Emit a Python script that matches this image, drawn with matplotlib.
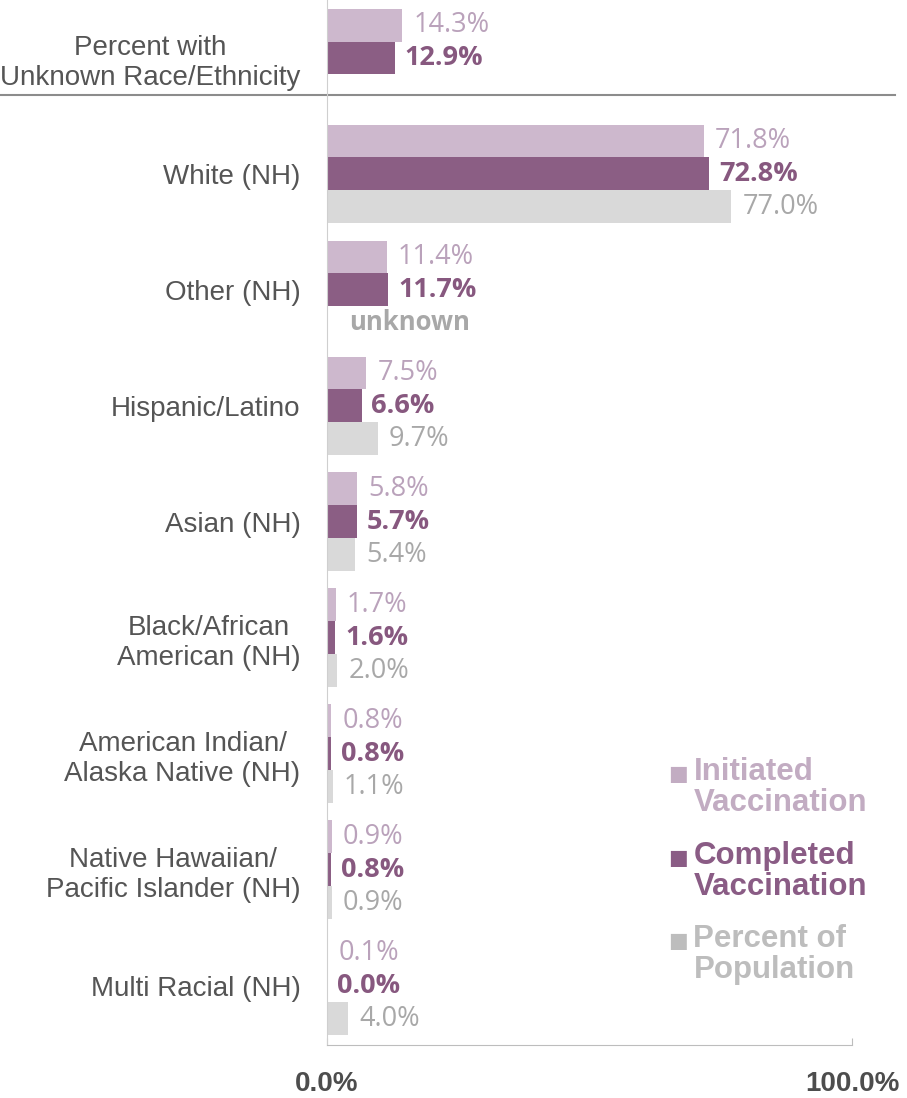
import numpy as np
import matplotlib
matplotlib.use("Agg")
import matplotlib.pyplot as plt

categories = ["Percent with\nUnknown Race/Ethnicity", "White (NH)", "Other (NH)",
              "Hispanic/Latino", "Asian (NH)", "Black/African\nAmerican (NH)",
              "American Indian/\nAlaska Native (NH)",
              "Native Hawaiian/\nPacific Islander (NH)", "Multi Racial (NH)"]
initiated = [14.3, 71.8, 11.4, 7.5, 5.8, 1.7, 0.8, 0.9, 0.1]
completed = [12.9, 72.8, 11.7, 6.6, 5.7, 1.6, 0.8, 0.8, 0.0]
population = [np.nan, 77.0, np.nan, 9.7, 5.4, 2.0, 1.1, 0.9, 4.0]
population_text = [None, None, "unknown", None, None, None, None, None, None]
series_names = ["Initiated\nVaccination", "Completed\nVaccination", "Percent of\nPopulation"]
xtick_vals = [0, 100]
xtick_labels = ["0.0%", "100.0%"]

bar_colors = ["#cdb8cd", "#8b5e84", "#d9d9d9"]
text_colors = ["#baa2bb", "#87587f", "#a8a8a8"]
legend_colors = ["#c2acc2", "#8a5c85", "#bdbdbd"]

fig = plt.figure(figsize=(9.07, 10.98), dpi=100)
ax = fig.add_axes([0.3605, 0.0483, 0.5788, 0.9517])

y = np.arange(len(categories))
h = 0.284

ax.barh(y - h, initiated, height=h, color=bar_colors[0])
ax.barh(y, completed, height=h, color=bar_colors[1])
ax.barh(y + h, np.nan_to_num(population), height=h, color=bar_colors[2])

vfont = "Open Sans"
vsize = 19.5
for i in range(len(categories)):
    ax.annotate(f"{initiated[i]:.1f}%", (initiated[i], y[i] - h), xytext=(8, 0),
                textcoords="offset points", va="center", ha="left",
                fontsize=vsize, color=text_colors[0], family=vfont)
    ax.annotate(f"{completed[i]:.1f}%", (completed[i], y[i]), xytext=(7, 0),
                textcoords="offset points", va="center", ha="left",
                fontsize=vsize, color=text_colors[1], family=vfont, fontweight="bold")
    if not np.isnan(population[i]):
        ax.annotate(f"{population[i]:.1f}%", (population[i], y[i] + h), xytext=(8, 0),
                    textcoords="offset points", va="center", ha="left",
                    fontsize=vsize, color=text_colors[2], family=vfont)
    elif population_text[i]:
        ax.annotate(population_text[i], (0, y[i] + h), xytext=(16, 0),
                    textcoords="offset points", va="center", ha="left",
                    fontsize=18.5, color=text_colors[2], family=vfont, fontweight="bold")

ax.set_xlim(0, 100)
ax.set_ylim(8.51, -0.5)

# separator under the unknown row
ax.axhline(0.32, xmin=-0.623, xmax=1.082, color="#8c8c8c", lw=1.5, clip_on=False)

for s in ["top", "right"]:
    ax.spines[s].set_visible(False)
ax.spines["left"].set_color("#cfcfcf")
ax.spines["bottom"].set_color("#bdbdbd")

ax.set_yticks(y)
ax.set_yticklabels(categories, family="Liberation Sans", fontsize=20, color="#555555",
                   linespacing=1.2)
for t in ax.get_yticklabels():
    t.set_multialignment("center")
ax.tick_params(axis="y", length=0, pad=19)

ax.set_xticks(xtick_vals)
ax.set_xticklabels(xtick_labels, family="Liberation Sans", fontsize=20,
                   fontweight="bold", color="#4d4d4d")
ax.tick_params(axis="x", direction="in", length=5, color="#bdbdbd", pad=19)

# legend drawn by hand
leg_y = [6.06, 6.78, 7.5]
for name, col, ly in zip(series_names, legend_colors, leg_y):
    ax.text(65.0, ly + 0.03, "\u25a0", color=col, fontsize=15, va="top", ha="left",
            family="DejaVu Sans")
    ax.text(69.8, ly - 0.03, name, color=col, fontsize=22.5, fontweight="bold",
            va="top", ha="left", family="Liberation Sans", linespacing=1.05)

fig.savefig("out.png", dpi=100)
